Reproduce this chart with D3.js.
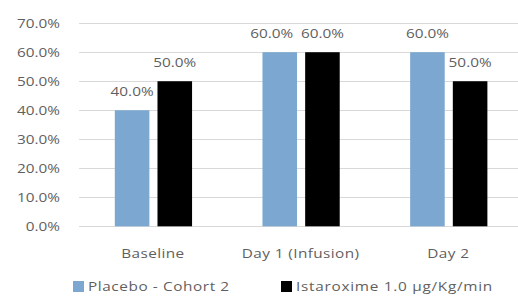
<!DOCTYPE html>
<html><head><meta charset="utf-8">
<script src="https://cdn.jsdelivr.net/npm/d3@7"></script>
<style>body{margin:0;background:#fff;} text{font-family:"Open Sans",sans-serif;fill:#5f5f5f;}</style>
</head><body><svg id="c" width="518" height="296"></svg>
<script>
const categories = ["Baseline", "Day 1 (Infusion)", "Day 2"];
const seriesNames = ["Placebo - Cohort 2", "Istaroxime 1.0 µg/Kg/min"];
const placebo = [0.40, 0.60, 0.60];
const istaroxime = [0.50, 0.60, 0.50];
const yTicks = [0, 0.1, 0.2, 0.3, 0.4, 0.5, 0.6, 0.7];
const colors = ["#7BA7D0", "#000000"];

const svg = d3.select("#c");
const fmt = d3.format(".1%");
const SX = 1.18;
const x0 = d3.scaleBand().domain(categories).range([79.6, 522.6]).padding(0);
const x1 = d3.scaleBand().domain(seriesNames).range([0, x0.bandwidth()]).paddingInner(0.19).paddingOuter(0.825);
const y = d3.scaleLinear().domain([0, 0.7]).range([226.3, 23.2]);

// gridlines
svg.append("g").selectAll("line").data(yTicks).join("line")
  .attr("x1", 79).attr("x2", 518)
  .attr("y1", d => Math.round(y(d)) + 0.5).attr("y2", d => Math.round(y(d)) + 0.5)
  .attr("stroke", "#d9d9d9").attr("stroke-width", 1);

function sText(sel, x, yy, anchor) {
  return sel.attr("transform", `translate(${x},${yy}) scale(${SX},1)`).attr("text-anchor", anchor);
}
// y axis labels
svg.append("g").selectAll("text").data(yTicks).join("text")
  .each(function(d){ sText(d3.select(this), 60, y(d) + 4.5, "end"); })
  .attr("font-size", 13).text(d => fmt(d));

const series = [placebo, istaroxime];
const g = svg.append("g");
series.forEach((vals, si) => {
  const s = seriesNames[si];
  const other = series[1 - si];
  g.append("g").selectAll("rect").data(categories).join("rect")
    .attr("x", (c) => x0(c) + x1(s))
    .attr("width", x1.bandwidth())
    .attr("y", (c, i) => y(vals[i]))
    .attr("height", (c, i) => y(0) - y(vals[i]))
    .attr("fill", colors[si]);
  g.append("g").selectAll("text").data(categories).join("text")
    .each(function(c, i){
      // nudge the left label when both labels sit at the same height (avoid overlap)
      const dx = (si === 0 && other[i] === vals[i]) ? -8 : 0;
      sText(d3.select(this), x0(c) + x1(s) + x1.bandwidth()/2 + dx, y(vals[i]) - 14, "middle");
    })
    .attr("font-size", 13).text((c, i) => fmt(vals[i]));
});

// x axis labels
svg.append("g").selectAll("text").data(categories).join("text")
  .each(function(c){ sText(d3.select(this), x0(c) + x0.bandwidth()/2 - 0.5, 258, "middle"); })
  .attr("font-size", 13).attr("letter-spacing", 0.35).text(c => c);

// legend
const legX = [73, 281];
const leg = svg.append("g");
seriesNames.forEach((s, i) => {
  leg.append("rect").attr("x", legX[i]).attr("y", 281).attr("width", 11).attr("height", 11).attr("fill", colors[i]);
  sText(leg.append("text"), legX[i] + 15, 291, "start").attr("font-size", 13).attr("letter-spacing", i === 0 ? 0.5 : 0.62).text(s);
});
</script></body></html>
